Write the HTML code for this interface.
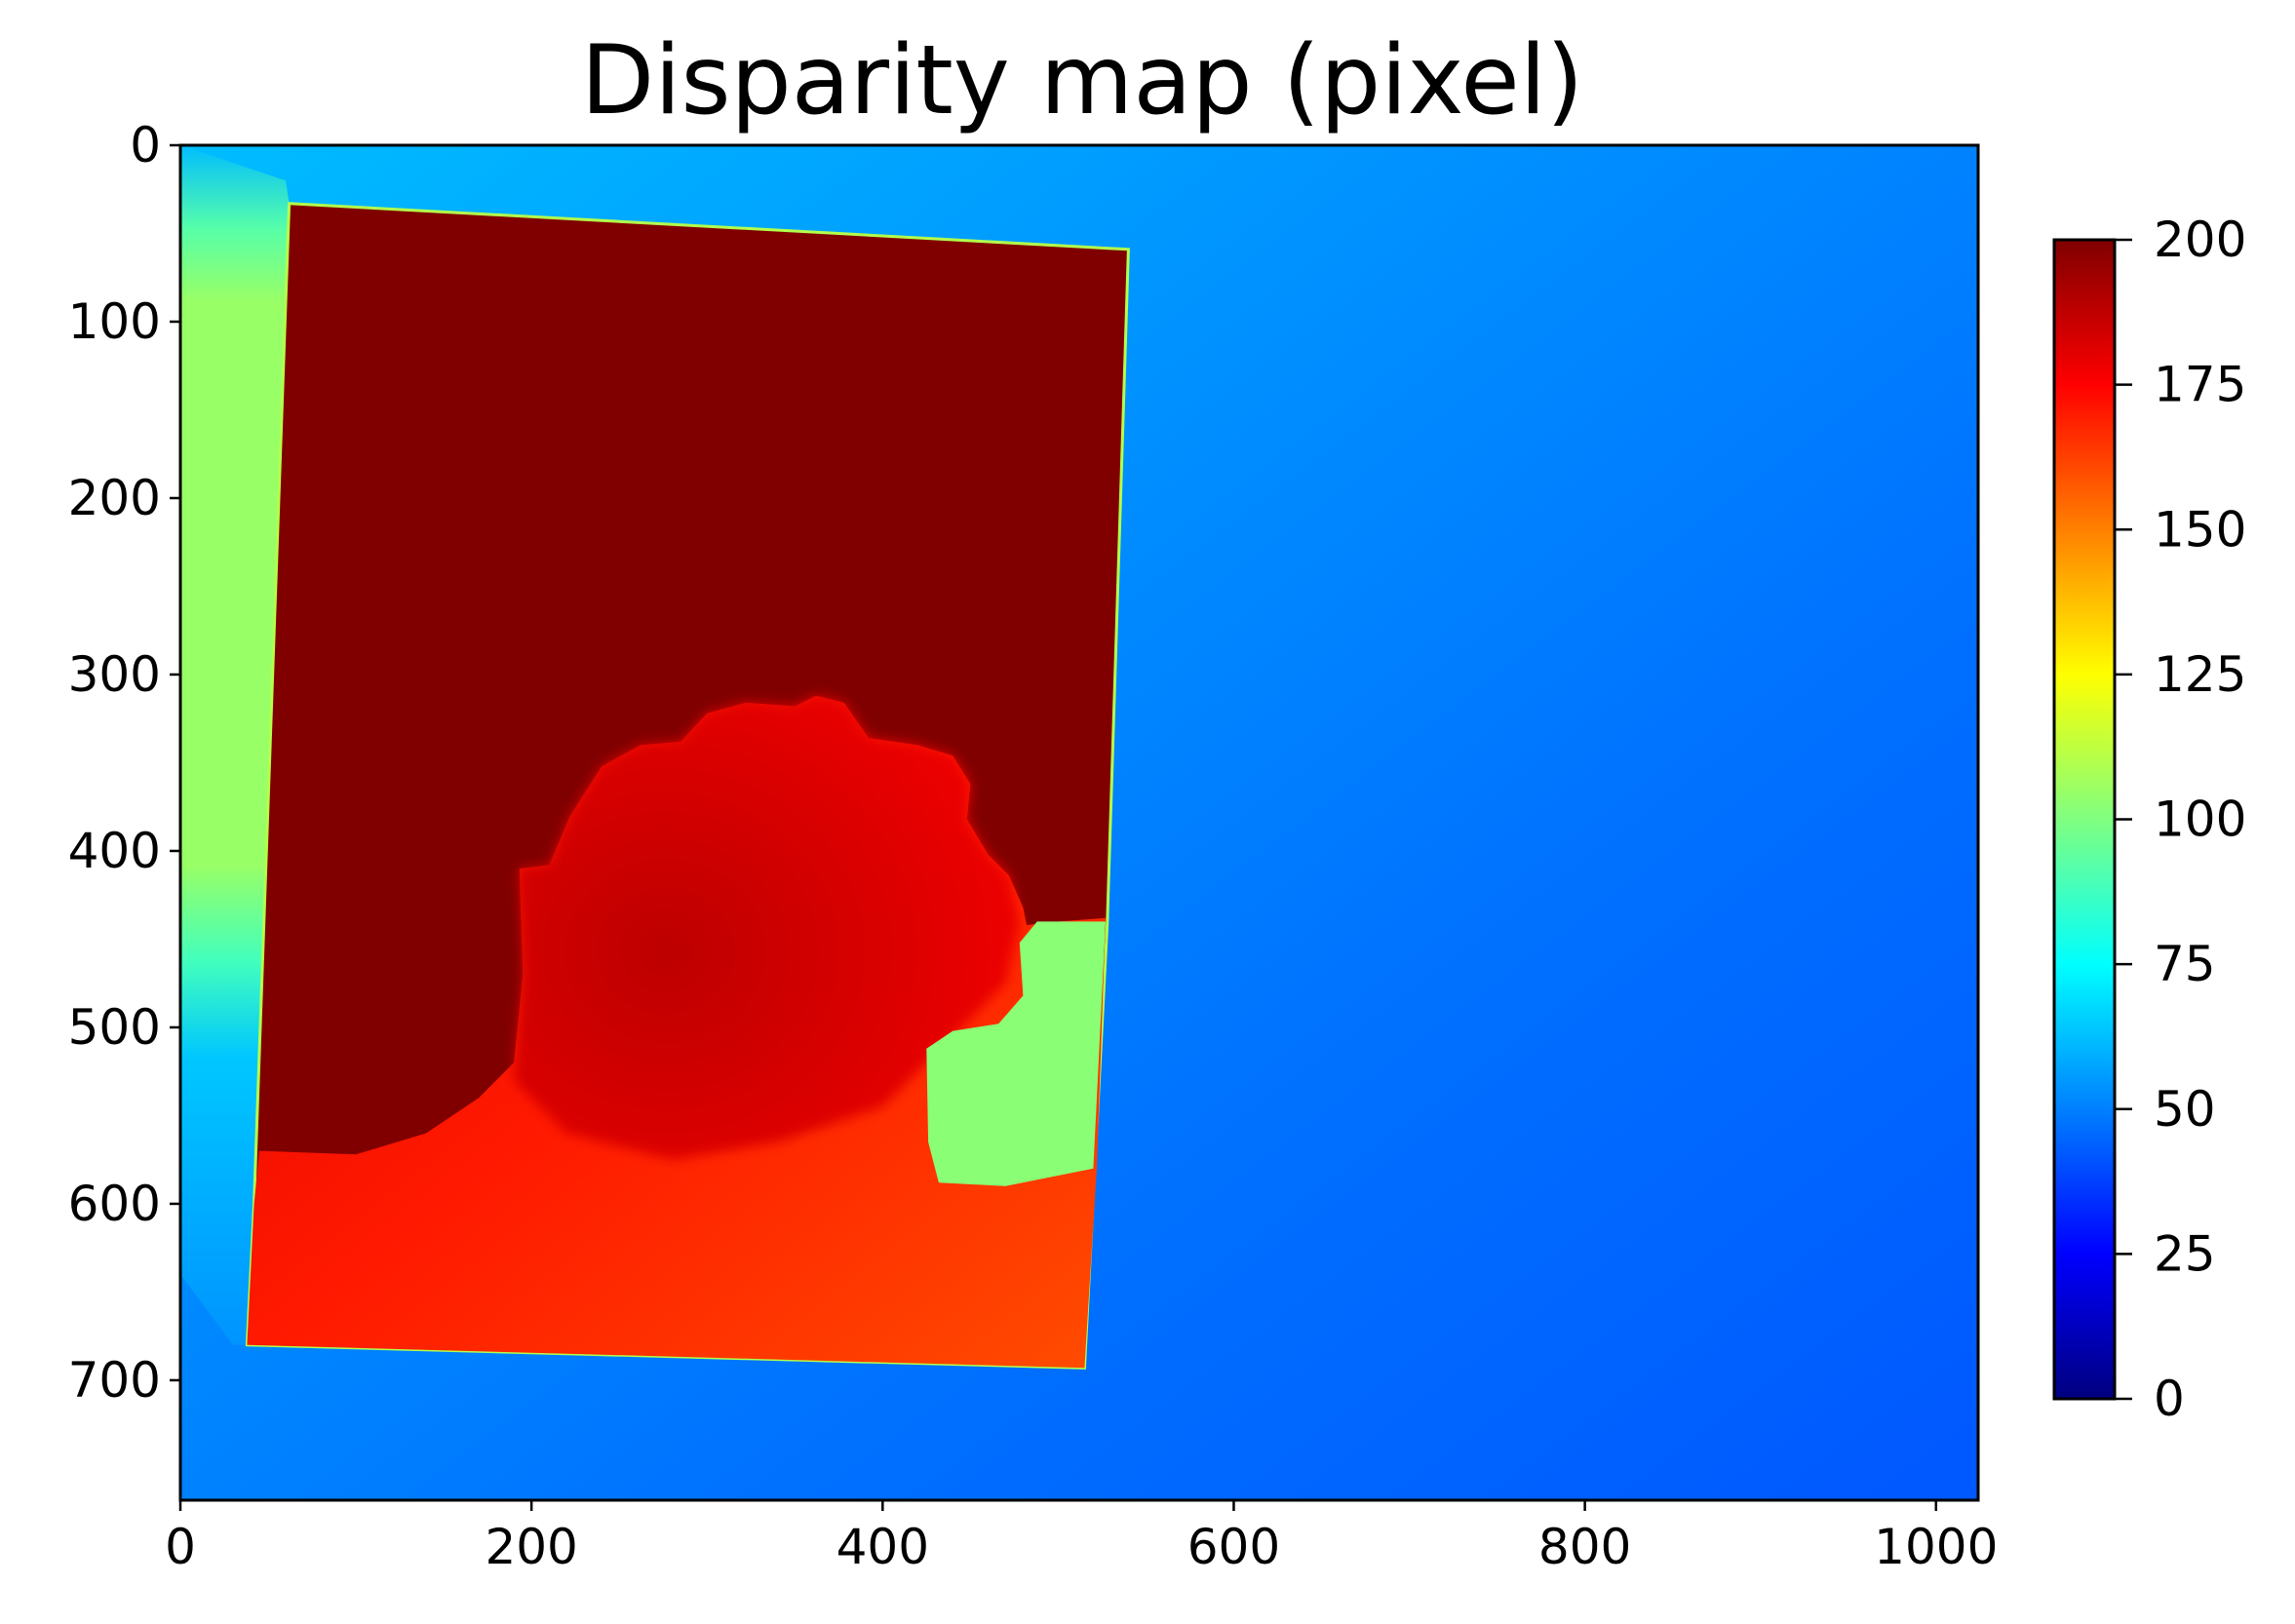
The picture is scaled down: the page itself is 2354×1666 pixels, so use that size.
<!DOCTYPE html>
<html><head><meta charset="utf-8"><style>
html,body{margin:0;padding:0;background:#fff;}
svg{display:block;font-family:"DejaVu Sans","Liberation Sans",sans-serif;}
</style></head><body>
<svg id="chart" width="2354" height="1666" viewBox="0 0 2354 1666" xmlns="http://www.w3.org/2000/svg">
<defs id="defs"></defs>
<text x="1110" y="83" font-size="98" text-anchor="middle" dominant-baseline="central" fill="#000">Disparity map (pixel)</text>
<g id="plot"></g>
<g id="axes"></g>
<g id="cbar"></g>
</svg>
<script>
// ---- data (image regions in data coords, disparity values) ----
const xTicks = [0, 200, 400, 600, 800, 1000];
const yTicks = [0, 100, 200, 300, 400, 500, 600, 700];
const cbarTicks = [0, 25, 50, 75, 100, 125, 150, 175, 200];
const bgValues = [62, 54, 47, 42];
const leftStripValues = [62, 92, 105, 105, 88, 64, 54];
const leftStripStops = [0, 0.07, 0.13, 0.6, 0.68, 0.76, 1];
const frameValue = 200;
const frameRegion = [[62,33],[540,59],[528,440],[515,693],[38,680],[42,600]];
const lowerValues = [180, 170, 160];
const lowerRegion = [[45,570],[100,572],[140,560],[170,540],[190,520],[195,470],[193,410],[210,408],[222,380],[240,352],[262,340],[285,338],[300,322],[322,316],[350,318],[362,312],[378,316],[392,336],[420,340],[440,346],[450,362],[448,382],[460,402],[472,414],[480,432],[482,442],[500,440],[527,438],[522,580],[515,693],[38,680],[42,600]];
const blobValue = 188;
const blobEdgeValue = 178;
const blobRegion = [[193,410],[210,408],[222,380],[240,352],[262,340],[285,338],[300,322],[322,316],[350,318],[362,312],[378,316],[392,336],[420,340],[440,346],[450,362],[448,382],[460,402],[472,414],[478,440],[470,475],[440,505],[400,545],[340,565],[280,575],[220,560],[190,530],[195,470]];
const greenValue = 102;
const greenRegion = [[488,440],[527,440],[520,580],[470,590],[432,588],[426,565],[425,512],[440,502],[466,498],[480,482],[478,452]];
const yMax = 768, xMax = 1024;

// ---- scales ----
const X0=185, X1=2029, Y0=149, Y1=1539;
const sx = d => X0 + d*(X1-X0)/xMax;
const sy = d => Y0 + d*(Y1-Y0)/yMax;
const CB_T=246, CB_B=1435, CB_L=2107, CB_R=2169;
const cy = v => CB_B - v/200*(CB_B-CB_T);

function jet(v){
  const t=Math.max(0,Math.min(1,v/200));
  const f=x=>Math.max(0,Math.min(1,x));
  const r=f(Math.min(4*t-1.5,-4*t+4.5)), g=f(Math.min(4*t-0.5,-4*t+3.5)), b=f(Math.min(4*t+0.5,-4*t+2.5));
  const h=x=>Math.round(x*255).toString(16).padStart(2,'0');
  return '#'+h(r)+h(g)+h(b);
}
const NS='http://www.w3.org/2000/svg';
function mk(tag, attrs, parent){const e=document.createElementNS(NS,tag);for(const k in attrs)e.setAttribute(k,attrs[k]);parent.appendChild(e);return e;}
const defs=document.getElementById('defs');
function grad(id, vals, stops, x1,y1,x2,y2){
  const g=mk('linearGradient',{id:id,x1:x1,y1:y1,x2:x2,y2:y2},defs);
  vals.forEach((v,i)=>mk('stop',{offset:(stops?stops[i]:i/(vals.length-1)),'stop-color':jet(v)},g));
}
grad('bgG', bgValues, null, 0,0,1,1);
grad('leftG', leftStripValues, leftStripStops, 0,0,0,1);
grad('lowerG', lowerValues, null, 0,0,1,1);
const cbg=mk('linearGradient',{id:'cbG',x1:0,y1:1,x2:0,y2:0},defs);
for(let i=0;i<=40;i++){mk('stop',{offset:i/40,'stop-color':jet(i*5)},cbg);}
const rg=mk('radialGradient',{id:'blobG',cx:'0.3',cy:'0.55',r:'0.75'},defs);
mk('stop',{offset:0,'stop-color':jet(blobValue)},rg);
mk('stop',{offset:1,'stop-color':jet(blobEdgeValue)},rg);
const fl=mk('filter',{id:'soft',x:'-5%',y:'-5%',width:'110%',height:'110%'},defs);
mk('feGaussianBlur',{stdDeviation:6},fl);

const plot=document.getElementById('plot');
const pts = arr => arr.map(p=>sx(p[0]).toFixed(1)+','+sy(p[1]).toFixed(1)).join(' ');
const bg=mk('rect',{x:X0,y:Y0,width:X1-X0,height:Y1-Y0,fill:'url(#bgG)'},plot);


const ls=mk('polygon',{points:pts([[0,0],[60,20],[62,33],[42,600],[38,680],[30,680],[0,640]]),fill:'url(#leftG)'},plot);


const fr=mk('polygon',{points:pts(frameRegion),fill:jet(frameValue),stroke:jet(110),'stroke-width':3},plot);


const lo=mk('polygon',{points:pts(lowerRegion),fill:'url(#lowerG)'},plot);


const bl=mk('polygon',{points:pts(blobRegion),fill:'url(#blobG)',filter:'url(#soft)'},plot);


const gr=mk('polygon',{points:pts(greenRegion),fill:jet(greenValue)},plot);



// ---- axes ----
const ax=document.getElementById('axes');
mk('rect',{x:X0,y:Y0,width:X1-X0,height:Y1-Y0,fill:'none',stroke:'#000','stroke-width':3},ax);
xTicks.forEach(t=>{
  const x=sx(t);
  const l=mk('line',{x1:x,x2:x,y1:Y1,y2:Y1+11,stroke:'#000','stroke-width':2.5},ax);
  
  
  const tx=mk('text',{x:x,y:Y1+48,'font-size':50,'text-anchor':'middle','dominant-baseline':'central'},ax);
  tx.textContent=t;
  
  
});
yTicks.forEach(t=>{
  const y=sy(t);
  const l=mk('line',{x1:X0-11,x2:X0,y1:y,y2:y,stroke:'#000','stroke-width':2.5},ax);
  
  
  const tx=mk('text',{x:X0-20,y:y,'font-size':50,'text-anchor':'end','dominant-baseline':'central'},ax);
  tx.textContent=t;
  
  
});

// ---- colorbar ----
const cb=document.getElementById('cbar');
mk('rect',{x:CB_L,y:CB_T,width:CB_R-CB_L,height:CB_B-CB_T,fill:'url(#cbG)',stroke:'#000','stroke-width':3},cb);
cbarTicks.forEach(t=>{
  const y=cy(t);
  const l=mk('line',{x1:CB_R,x2:CB_R+18,y1:y,y2:y,stroke:'#000','stroke-width':2.5},cb);
  
  
  const tx=mk('text',{x:CB_R+40,y:y,'font-size':50,'text-anchor':'start','dominant-baseline':'central'},cb);
  tx.textContent=t;
  
  
});
</script>
</body></html>
